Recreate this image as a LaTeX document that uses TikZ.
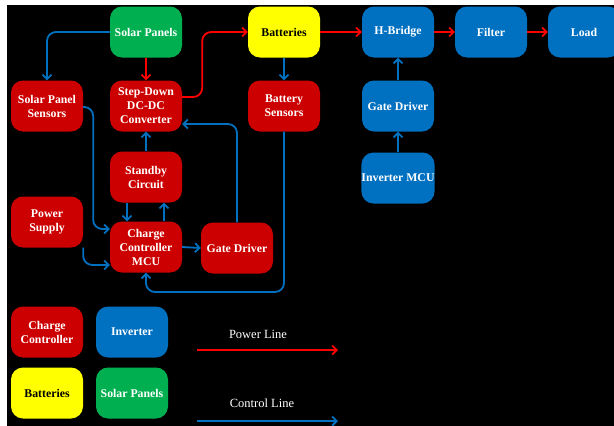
\documentclass[tikz,border=0pt]{standalone}
\usepackage{fontspec}
\setmainfont{Liberation Serif}
\usetikzlibrary{arrows.meta}
\definecolor{ccred}{RGB}{204,0,0}
\definecolor{invblue}{RGB}{0,112,192}
\definecolor{spgreen}{RGB}{0,176,80}
\definecolor{batyel}{RGB}{255,255,0}
\definecolor{pwrred}{RGB}{255,0,0}
\definecolor{ctlblue}{RGB}{0,112,192}
\begin{document}
\begin{tikzpicture}[x=1pt,y=-1pt,
  box/.style={rounded corners=12pt, minimum width=72pt, minimum height=51pt, inner sep=0pt,
    align=center, text=white, font=\bfseries\fontsize{11.8}{14}\selectfont},
  cc/.style={box, fill=ccred},
  inv/.style={box, fill=invblue},
  bat/.style={box, fill=batyel, text=black},
  sol/.style={box, fill=spgreen},
  pwr/.style={draw=pwrred, line width=1.8pt, rounded corners=9pt, -{Straight Barb[length=4.5pt,width=9pt]}},
  ctl/.style={draw=ctlblue, line width=1.8pt, rounded corners=9pt, -{Straight Barb[length=4.5pt,width=9pt]}},
  lbl/.style={text=white, font=\fontsize{12.5}{14}\selectfont}]
\useasboundingbox (0,0) rectangle (614,426);
\fill[white] (0,0) rectangle (614,426);
\fill[black] (7,5) rectangle (614,426);

% top row
\node[sol] (sp) at (146,32) {Solar Panels};
\node[bat] (bat) at (284,32) {Batteries};
\node[inv] (hb) at (398,32) {H-Bridge};
\node[inv] (fil) at (491,32) {Filter};
\node[inv] (load) at (584,32) {Load};
% second row
\node[cc] (sps) at (47,106) {Solar Panel\\Sensors};
\node[cc] (sd) at (146,106) {Step-Down\\DC-DC\\Converter};
\node[cc] (bs) at (284,106) {Battery\\Sensors};
\node[inv] (igd) at (398,106) {Gate Driver};
% third row
\node[cc] (sb) at (146,177) {Standby\\Circuit};
\node[inv] (imcu) at (398,178) {Inverter MCU};
% fourth row
\node[cc] (ps) at (47,222) {Power\\Supply};
\node[cc] (mcu) at (146,247) {Charge\\Controller\\MCU};
\node[cc] (cgd) at (237,248) {Gate Driver};

% legend
\node[cc] (lcc) at (47,332) {Charge\\Controller};
\node[inv] (linv) at (132,332) {Inverter};
\node[bat] (lbat) at (47,393) {Batteries};
\node[sol] (lsol) at (132,393) {Solar Panels};
\node[lbl] (plt) at (258,334) {Power Line};
\node[lbl] (clt) at (262,403) {Control Line};
\coordinate (pla) at (197,350);
\coordinate (plb) at (338,350);
\coordinate (cla) at (197,421);
\coordinate (clb) at (338,421);
\draw[pwr] (pla) -- (plb);
\draw[ctl] (cla) -- (clb);

% power lines
\draw[pwr] (sp.south) -- (sd.north);
\draw[pwr] ([yshift=9pt]sd.east) -- ++(20,0) |- (bat.west);
\draw[pwr] (bat.east) -- (hb.west);
\draw[pwr] (hb.east) -- (fil.west);
\draw[pwr] (fil.east) -- (load.west);

% control lines
\draw[ctl] (sp.west) -| (sps.north);
\draw[ctl] (bat.south) -- (bs.north);
\draw[ctl] (bs.south) -- (bs.south |- 0,292) -| (mcu.south);
\draw[ctl] (cgd.north) |- ([yshift=-18pt]sd.east);
\draw[ctl] (sb.north) -- (sd.south);
\draw[ctl] ([xshift=-19pt]sb.south) -- ([xshift=-19pt]mcu.north);
\draw[ctl] ([xshift=18pt]mcu.north) -- ([xshift=18pt]sb.south);
\draw[ctl] ([yshift=-1pt]sps.east) -- ++(10,0) |- ([yshift=18pt]mcu.west);
\draw[ctl] (ps.south east) |- ([yshift=-18pt]mcu.west);
\draw[ctl] (mcu.east) -- (cgd.west);
\draw[ctl] (igd.north) -- (hb.south);
\draw[ctl] (imcu.north) -- (igd.south);
\end{tikzpicture}
\end{document}
